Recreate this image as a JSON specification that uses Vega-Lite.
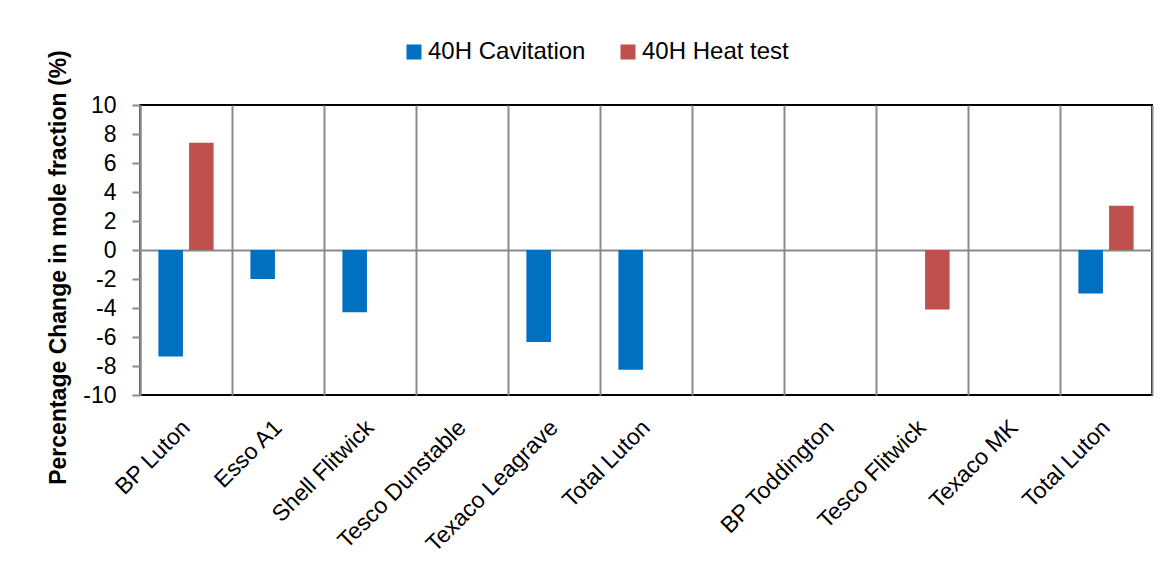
{
  "$schema": "https://vega.github.io/schema/vega-lite/v6.json",
  "width": 1012,
  "height": 290,
  "autosize": {"type": "none"},
  "padding": {"left": 140, "top": 105, "right": 15, "bottom": 174},
  "background": "white",
  "config": {
    "font": "Liberation Sans",
    "view": {"stroke": "#000000", "strokeWidth": 2}
  },
  "data": {
    "values": [
      {"site": "BP Luton", "series": "40H Cavitation", "value": -7.35},
      {"site": "BP Luton", "series": "40H Heat test", "value": 7.4},
      {"site": "Esso A1", "series": "40H Cavitation", "value": -2.0},
      {"site": "Esso A1", "series": "40H Heat test", "value": null},
      {"site": "Shell Flitwick", "series": "40H Cavitation", "value": -4.3},
      {"site": "Shell Flitwick", "series": "40H Heat test", "value": null},
      {"site": "Tesco Dunstable", "series": "40H Cavitation", "value": null},
      {"site": "Tesco Dunstable", "series": "40H Heat test", "value": null},
      {"site": "Texaco Leagrave", "series": "40H Cavitation", "value": -6.35},
      {"site": "Texaco Leagrave", "series": "40H Heat test", "value": null},
      {"site": "Total Luton", "series": "40H Cavitation", "value": -8.25},
      {"site": "Total Luton", "series": "40H Heat test", "value": null},
      {"site": " ", "series": "40H Cavitation", "value": null},
      {"site": " ", "series": "40H Heat test", "value": null},
      {"site": "BP Toddington", "series": "40H Cavitation", "value": null},
      {"site": "BP Toddington", "series": "40H Heat test", "value": null},
      {"site": "Tesco Flitwick", "series": "40H Cavitation", "value": null},
      {"site": "Tesco Flitwick", "series": "40H Heat test", "value": -4.1},
      {"site": "Texaco MK", "series": "40H Cavitation", "value": null},
      {"site": "Texaco MK", "series": "40H Heat test", "value": null},
      {"site": "Total Luton ", "series": "40H Cavitation", "value": -3.0},
      {"site": "Total Luton ", "series": "40H Heat test", "value": 3.05}
    ]
  },
  "mark": {"type": "bar"},
  "encoding": {
    "x": {
      "field": "site",
      "type": "nominal",
      "sort": null,
      "scale": {
        "domain": ["BP Luton", "Esso A1", "Shell Flitwick", "Tesco Dunstable", "Texaco Leagrave", "Total Luton", " ", "BP Toddington", "Tesco Flitwick", "Texaco MK", "Total Luton "],
        "paddingInner": 0,
        "paddingOuter": 0
      },
      "axis": {
        "title": null,
        "grid": true,
        "gridColor": "#8a8a8a",
        "gridWidth": 2,
        "gridOpacity": 1,
        "tickBand": "extent",
        "ticks": false,
        "domain": false,
        "labelAngle": -45,
        "labelFontSize": 23,
        "labelColor": "#000000",
        "labelPadding": 21,
        "labelOffset": -8,
        "labelOverlap": false
      }
    },
    "xOffset": {
      "field": "series",
      "type": "nominal",
      "sort": ["40H Cavitation", "40H Heat test"],
      "scale": {"paddingInner": 0.2, "paddingOuter": 0.6}
    },
    "y": {
      "field": "value",
      "type": "quantitative",
      "scale": {"domain": [-10, 10], "nice": false, "zero": false},
      "axis": {
        "title": "Percentage Change in mole fraction (%)",
        "titleFontSize": 23,
        "titleFontWeight": "bold",
        "titleColor": "#000000",
        "titleX": -82,
        "titleY": 162,
        "titleAngle": -90,
        "titleAlign": "center",
        "titleBaseline": "middle",
        "values": [-10, -8, -6, -4, -2, 0, 2, 4, 6, 8, 10],
        "labelExpr": "'' + datum.value",
        "labelOverlap": false,
        "labelFlush": false,
        "grid": true,
        "gridWidth": 2,
        "gridColor": {"condition": {"test": "datum.value === 0", "value": "#8a8a8a"}, "value": "transparent"},
        "domain": true,
        "domainColor": "#8a8a8a",
        "domainWidth": 2,
        "ticks": true,
        "tickColor": "#8a8a8a",
        "tickWidth": 2,
        "tickSize": 8,
        "labelFontSize": 23,
        "labelColor": "#000000",
        "labelPadding": 16
      }
    },
    "color": {
      "field": "series",
      "type": "nominal",
      "scale": {"domain": ["40H Cavitation", "40H Heat test"], "range": ["#0070C0", "#C0504D"]},
      "legend": {
        "title": null,
        "orient": "none",
        "direction": "horizontal",
        "legendX": 262,
        "legendY": -65,
        "symbolType": "square",
        "symbolSize": 225,
        "symbolStrokeWidth": 0,
        "labelFontSize": 24,
        "labelColor": "#000000",
        "labelOffset": 2,
        "columnPadding": 30
      }
    }
  }
}
